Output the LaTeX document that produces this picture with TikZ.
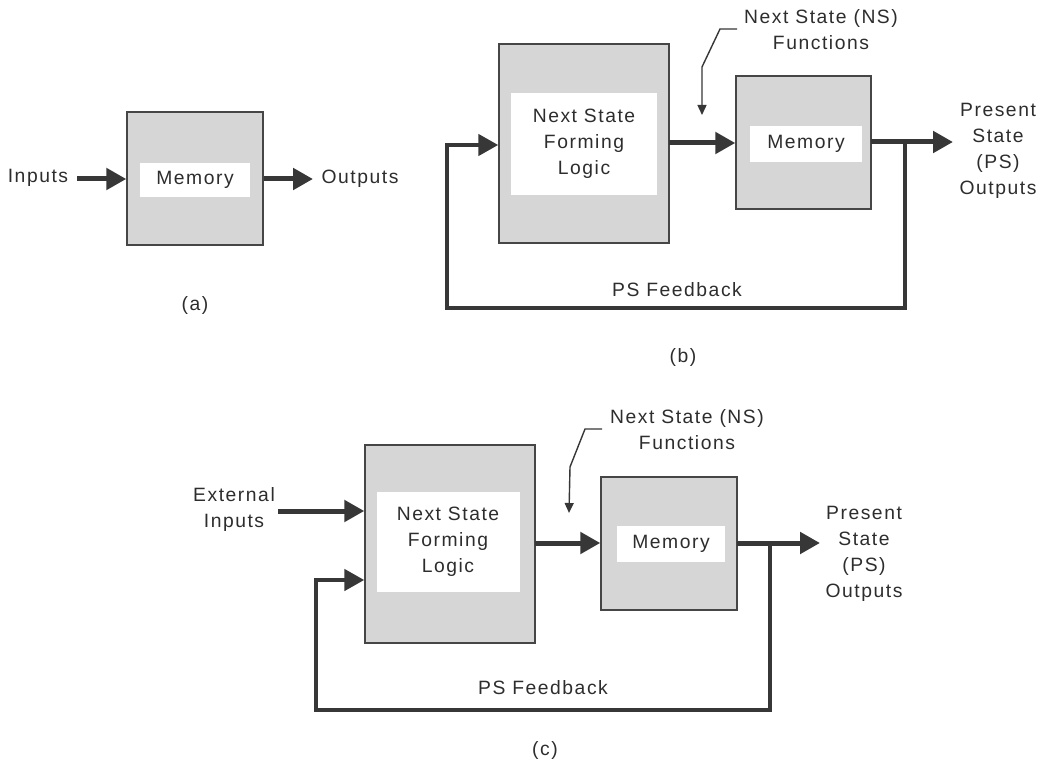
\documentclass[tikz,border=0pt]{standalone}
\usepackage{fontspec}
\setmainfont{Liberation Sans}[LetterSpace=8]
\usetikzlibrary{arrows.meta,calc}
\definecolor{blkgray}{RGB}{214,214,214}
\definecolor{edge}{RGB}{70,70,70}
\definecolor{arr}{RGB}{55,55,55}
\definecolor{ink}{RGB}{45,45,45}
\newcommand\fsz{\fontsize{19.3}{26}\selectfont}
\tikzset{
  blk/.style={draw=edge, line width=1.4pt, fill=blkgray, inner sep=0pt},
  lblbox/.style={fill=white, draw=none, inner sep=0pt, align=center, text=ink, font=\fsz},
  txt/.style={inner sep=0pt, align=center, text=ink, font=\fsz},
  flow/.style={draw=arr, line width=5pt, -{Triangle[length=20pt,width=21pt]}},
  fback/.style={draw=arr, line width=4.5pt, line join=miter, -{Triangle[length=20pt,width=21pt]}},
  ptr/.style={draw=arr, line width=1.4pt, -{Triangle[length=10pt,width=9pt]}},
}
\begin{document}
\begin{tikzpicture}[x=1pt,y=-1pt]
\useasboundingbox (0,0) rectangle (1044,778);
\fill[white] (0,0) rectangle (1044,778);

% ---------------- (a) ----------------
\node[blk, minimum width=136pt, minimum height=133pt] (ma) at (195,178.5) {};
\node[lblbox, minimum width=110pt, minimum height=34pt] (mal) at (195,180) {Memory};
\node[txt] (ina) at (38,178) {Inputs};
\node[txt] (outa) at (360,179) {Outputs};
\coordinate (ina0) at (77,179);
\coordinate (outa1) at (313,179);
\draw[flow] (ina0) -- (ina0 -| ma.west);
\draw[flow] (ina0 -| ma.east) -- (outa1);
\node[txt] (capa) at (195,306) {(a)};

% ---------------- (b) ----------------
\node[blk, minimum width=170pt, minimum height=199pt] (nb) at (584,143.5) {};
\node[lblbox, minimum width=146pt, minimum height=102pt] (nbl) at (584,144) {Next State\\Forming\\Logic};
\node[blk, minimum width=135pt, minimum height=133pt] (mb) at (803.5,142.5) {};
\node[lblbox, minimum width=112pt, minimum height=36pt] (mbl) at (806,144) {Memory};
\coordinate (nbo) at (669,143);
\draw[flow] (nbo) -- (nbo -| mb.west);
\coordinate (mbo) at (871,142);
\coordinate (jb) at (905,142);
\coordinate (outb1) at (953,142);
\draw[flow] (mbo) -- (outb1);
\node[txt] (psb) at (998,151) {Present\\State\\(PS)\\Outputs};
\coordinate (fbin) at (447,145);
\draw[fback] (jb) -- (905,308) -- (447,308) -- (fbin) -- (fbin -| nb.west);
\node[txt] (fbb) at (677,290) {PS Feedback};
\node[txt] (nsb) at (821,30) {Next State (NS)\\Functions};
\coordinate (pb0) at (737,29);
\coordinate (pb1) at (702,115);
\draw[ptr] (pb0) -- (720,29) -- (702,67) -- (pb1);
\node[txt] (capb) at (683,358) {(b)};

% ---------------- (c) ----------------
\node[blk, minimum width=170pt, minimum height=198pt] (nc) at (450,544) {};
\node[lblbox, minimum width=143pt, minimum height=100pt] (ncl) at (448,542) {Next State\\Forming\\Logic};
\node[blk, minimum width=136pt, minimum height=133pt] (mc) at (669,543.5) {};
\node[lblbox, minimum width=108pt, minimum height=36pt] (mcl) at (671,544) {Memory};
\node[txt] (extc) at (234,510) {External\\Inputs};
\coordinate (extc0) at (278,511);
\draw[flow] (extc0) -- (extc0 -| nc.west);
\coordinate (nco) at (535,543);
\draw[flow] (nco) -- (nco -| mc.west);
\coordinate (mco) at (737,543);
\coordinate (jc) at (770,543);
\coordinate (outc1) at (820,543);
\draw[flow] (mco) -- (outc1);
\node[txt] (psc) at (864,554) {Present\\State\\(PS)\\Outputs};
\coordinate (fcin) at (316,580);
\draw[fback] (jc) -- (770,710) -- (316,710) -- (fcin) -- (fcin -| nc.west);
\node[txt] (fbc) at (543,688) {PS Feedback};
\node[txt] (nsc) at (687,430) {Next State (NS)\\Functions};
\coordinate (pc0) at (602,429);
\coordinate (pc1) at (569,513);
\draw[ptr] (pc0) -- (585,429) -- (570,467) -- (pc1);
\node[txt] (capc) at (545,750) {(c)};
\end{tikzpicture}
\end{document}
